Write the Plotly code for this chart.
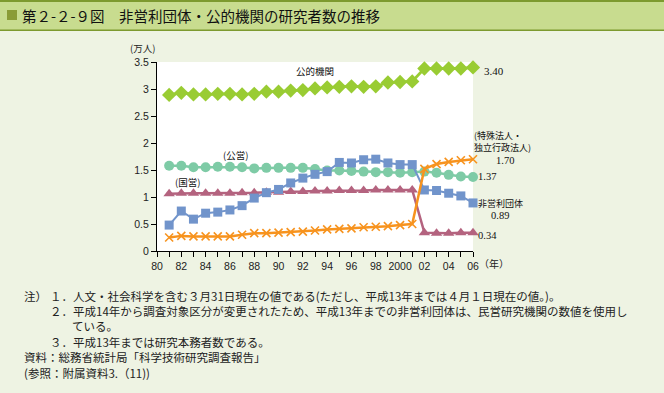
import plotly.graph_objects as go

# ---------------- data ----------------
years = list(range(1981, 2007))
public_org = [2.89, 2.93, 2.90, 2.90, 2.91, 2.91, 2.90, 2.91, 2.95, 2.95, 2.97, 2.98, 3.01,
              3.03, 3.04, 3.05, 3.04, 3.05, 3.12, 3.13, 3.14, 3.38, 3.38, 3.38, 3.38, 3.40]
kouei = [1.58, 1.58, 1.55, 1.55, 1.56, 1.56, 1.55, 1.53, 1.54, 1.54, 1.54, 1.54, 1.52,
         1.49, 1.49, 1.48, 1.47, 1.46, 1.46, 1.45, 1.46, 1.47, 1.45, 1.41, 1.38, 1.37]
kokuei = [1.06, 1.07, 1.07, 1.07, 1.07, 1.07, 1.08, 1.08, 1.09, 1.09, 1.10, 1.10, 1.11,
          1.11, 1.12, 1.12, 1.12, 1.13, 1.13, 1.13, 1.13, 0.34, 0.33, 0.33, 0.34, 0.34]
nonprofit = [0.48, 0.74, 0.59, 0.70, 0.72, 0.76, 0.84, 0.98, 1.08, 1.14, 1.26, 1.35, 1.42,
             1.47, 1.64, 1.63, 1.69, 1.70, 1.63, 1.60, 1.60, 1.13, 1.12, 1.07, 1.02, 0.89]
special = [0.25, 0.28, 0.27, 0.27, 0.27, 0.27, 0.30, 0.33, 0.33, 0.34, 0.35, 0.36, 0.38,
           0.40, 0.41, 0.42, 0.44, 0.45, 0.46, 0.48, 0.50, 1.52, 1.61, 1.65, 1.68, 1.70]

x_tickvals = list(range(1980, 2007))
x_ticktext = ["80", "", "82", "", "84", "", "86", "", "88", "", "90", "", "92", "", "94", "",
              "96", "", "98", "", "2000", "", "02", "", "04", "", "06"]
y_tickvals = [0, 0.5, 1, 1.5, 2, 2.5, 3, 3.5]
y_ticktext = ["0", "0.5", "1", "1.5", "2", "2.5", "3", "3.5"]

title_text = "第２-２-９図　非営利団体・公的機関の研究者数の推移"
notes = [
    ("注）", 22, 296),
    ("１．人文・社会科学を含む３月31日現在の値である(ただし、平成13年までは４月１日現在の値。)。", 48, 296),
    ("２．平成14年から調査対象区分が変更されたため、平成13年までの非営利団体は、民営研究機関の数値を使用し", 48, 311),
    ("ている。", 70, 326),
    ("３．平成13年までは研究本務者数である。", 48, 342),
    ("資料：総務省統計局「科学技術研究調査報告」", 22, 357),
    ("(参照：附属資料3.（11))", 22, 373),
]

# ---------------- layout geometry ----------------
W, H = 664, 393
L, R, T, B = 157, 473, 62, 251   # plot area in pixels


def px(x):
    return (x - L) / (R - L)


def py(y):
    return (B - y) / (B - T)


JP = "Noto Sans CJK JP"
NUM = "Liberation Sans, Arial, sans-serif"
SERIF = "Liberation Serif, Times New Roman, serif"

fig = go.Figure()

fig.add_trace(go.Scatter(
    x=years, y=public_org, mode="lines+markers", cliponaxis=False,
    line=dict(color="#99cc33", width=2.8),
    marker=dict(symbol="diamond", size=11, color="#99cc33"),
))
fig.add_trace(go.Scatter(
    x=years, y=kokuei, mode="lines+markers", cliponaxis=False,
    line=dict(color="#b4637f", width=2.5),
    marker=dict(symbol="triangle-up", size=10, color="#b4637f"),
))
fig.add_trace(go.Scatter(
    x=years, y=kouei, mode="lines+markers", cliponaxis=False,
    line=dict(color="#7ecba6", width=2.5),
    marker=dict(symbol="circle", size=10, color="#7ecba6"),
))
fig.add_trace(go.Scatter(
    x=years, y=nonprofit, mode="lines+markers", cliponaxis=False,
    line=dict(color="#7194cb", width=2),
    marker=dict(symbol="square", size=9, color="#7194cb"),
))
fig.add_trace(go.Scatter(
    x=years, y=special, mode="lines+markers", cliponaxis=False,
    line=dict(color="#f7931e", width=2.5),
    marker=dict(symbol="x-thin", size=8, color="#f7931e",
                line=dict(color="#f7931e", width=1.6)),
))

shapes = [
    # title band
    dict(type="rect", xref="paper", yref="paper", x0=px(0), x1=px(W), y0=py(30), y1=py(0),
         fillcolor="#c8dc8f", line=dict(width=0), layer="below"),
    dict(type="rect", xref="paper", yref="paper", x0=px(0), x1=px(W), y0=py(2), y1=py(0),
         fillcolor="#7d9a2f", line=dict(width=0), layer="below"),
    dict(type="rect", xref="paper", yref="paper", x0=px(0), x1=px(W), y0=py(31), y1=py(29.5),
         fillcolor="#7d9a2f", line=dict(width=0), layer="below"),
    dict(type="rect", xref="paper", yref="paper", x0=px(7), x1=px(17), y0=py(20), y1=py(10),
         fillcolor="#8a9c36", line=dict(width=0), layer="below"),
]

annotations = [
    dict(text=title_text, x=px(20), y=py(15), xanchor="left", yanchor="middle",
         font=dict(family=JP, size=14.5, color="#111111")),
    dict(text="(万人)", x=px(142), y=py(48), xanchor="center", yanchor="middle",
         font=dict(family=JP, size=9.5, color="#222222")),
    dict(text="（年）", x=px(494), y=py(263), xanchor="center", yanchor="middle",
         font=dict(family=JP, size=10, color="#222222")),
    dict(text="公的機関", x=px(315), y=py(71), xanchor="center", yanchor="middle",
         font=dict(family=JP, size=9.5, color="#111111")),
    dict(text="3.40", x=px(482), y=py(71), xanchor="left", yanchor="middle",
         font=dict(family=SERIF, size=11, color="#111111")),
    dict(text="(公営)", x=px(235), y=py(155), xanchor="center", yanchor="middle",
         font=dict(family=JP, size=9.5, color="#111111")),
    dict(text="(国営)", x=px(187), y=py(182), xanchor="center", yanchor="middle",
         font=dict(family=JP, size=9.5, color="#111111")),
    dict(text="(特殊法人・<br>独立行政法人)", x=px(472), y=py(141), xanchor="left",
         yanchor="middle", align="left",
         font=dict(family=JP, size=9, color="#111111")),
    dict(text="1.70", x=px(494), y=py(160), xanchor="left", yanchor="middle",
         font=dict(family=SERIF, size=10.5, color="#111111")),
    dict(text="1.37", x=px(476), y=py(176), xanchor="left", yanchor="middle",
         font=dict(family=SERIF, size=10.5, color="#111111")),
    dict(text="非営利団体", x=px(476), y=py(203), xanchor="left", yanchor="middle",
         font=dict(family=JP, size=9, color="#111111")),
    dict(text="0.89", x=px(489), y=py(215), xanchor="left", yanchor="middle",
         font=dict(family=SERIF, size=10.5, color="#111111")),
    dict(text="0.34", x=px(476), y=py(235), xanchor="left", yanchor="middle",
         font=dict(family=SERIF, size=10.5, color="#111111")),
]
for txt, xx, yy in notes:
    annotations.append(dict(text=txt, x=px(xx), y=py(yy), xanchor="left", yanchor="middle",
                            font=dict(family=JP, size=11.5, color="#222222")))
for a in annotations:
    a.update(xref="paper", yref="paper", showarrow=False)

fig.update_layout(
    width=W, height=H,
    margin=dict(l=L, r=W - R, t=T, b=H - B, pad=0),
    paper_bgcolor="#eef3e3",
    plot_bgcolor="#ffffff",
    showlegend=False,
    hovermode=False,
    shapes=shapes,
    annotations=annotations,
    xaxis=dict(range=[1980, 2006], tickvals=x_tickvals, ticktext=x_ticktext,
               showgrid=False, zeroline=False, showline=True, linecolor="#000000",
               linewidth=1.2, ticks="outside", ticklen=5, tickcolor="#000000",
               tickfont=dict(family=NUM, size=10.5, color="#222222")),
    yaxis=dict(range=[0, 3.5], tickvals=y_tickvals, ticktext=y_ticktext,
               showgrid=False, zeroline=False, showline=True, linecolor="#000000",
               linewidth=1.2, ticks="outside", ticklen=5, tickcolor="#000000",
               tickfont=dict(family=NUM, size=10.5, color="#222222")),
)

fig.write_html("out.html",
               config={"displayModeBar": False},
               post_script="document.body.style.margin='0';document.body.style.padding='0';"
                           "document.body.style.overflow='hidden';")
